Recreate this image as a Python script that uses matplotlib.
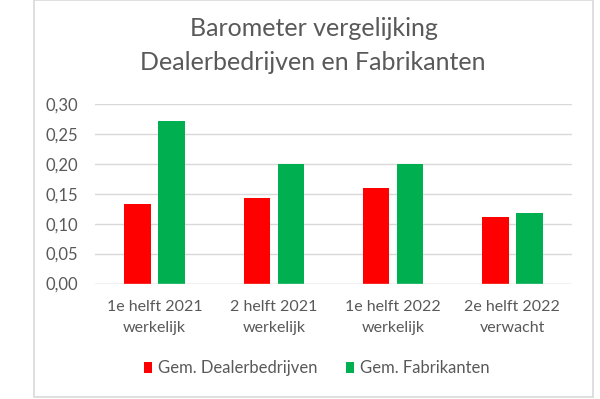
import matplotlib
matplotlib.use("Agg")
import matplotlib.pyplot as plt
import numpy as np
from matplotlib.patches import Rectangle

categories = ["1e helft 2021\nwerkelijk", "2 helft 2021\nwerkelijk", "1e helft 2022\nwerkelijk", "2e helft 2022\nverwacht"]
dealers = [0.133, 0.143, 0.160, 0.111]
fabrikanten = [0.271, 0.200, 0.200, 0.118]
series_names = ["Gem. Dealerbedrijven", "Gem. Fabrikanten"]
yticks = [0.00, 0.05, 0.10, 0.15, 0.20, 0.25, 0.30]
ytick_labels = ["0,00", "0,05", "0,10", "0,15", "0,20", "0,25", "0,30"]

plt.rcParams['font.family'] = ['Lato', 'DejaVu Sans']
W, H = 600, 399
fig = plt.figure(figsize=(W/100, H/100), dpi=100)
fig.patch.set_facecolor("white")

# chart border
fig.add_artist(Rectangle((34/W, 1 - 397/H), (593-34)/W, (397-0)/H,
                         transform=fig.transFigure, fill=False, edgecolor="#d9d9d9", linewidth=1.2))

ax = fig.add_axes([95/W, 1 - 283.5/H, (572-95)/W, (283.5-104)/H])
x = np.arange(len(categories))
bw = 0.222
ax.bar(x - 0.142, dealers, width=bw, color="#ff0000", label=series_names[0], zorder=3)
ax.bar(x + 0.142, fabrikanten, width=bw, color="#00b050", label=series_names[1], zorder=3)

ax.set_xlim(-0.5, len(categories) - 0.5)
ax.set_ylim(0, 0.30)
ax.set_yticks(yticks)
ax.set_yticklabels(ytick_labels)
ax.set_xticks(x)
ax.set_xticklabels(categories, linespacing=1.65)
ax.grid(axis="y", color="#d9d9d9", linewidth=1, zorder=0)
for s in ax.spines.values():
    s.set_visible(False)
ax.axhline(0, color="#d9d9d9", linewidth=1, zorder=4)
ax.tick_params(axis="both", length=0, colors="#595959")
ax.tick_params(axis="y", pad=12, labelsize=12)
ax.tick_params(axis="x", pad=12, labelsize=11.5)

fig.text(314/W, 1 - 29/H, "Barometer vergelijking", ha="center", va="center", fontsize=18, color="#595959")
fig.text(313/W, 1 - 62.5/H, "Dealerbedrijven en Fabrikanten", ha="center", va="center", fontsize=18, color="#595959")

leg = fig.legend(loc="center", bbox_to_anchor=(317/W, 1 - 368/H), ncol=2, frameon=False,
                 fontsize=12, handlelength=0.48, handleheight=0.66, handletextpad=0.35,
                 columnspacing=1.7, labelcolor="#595959")

fig.savefig("out.png", dpi=100, facecolor="white")
